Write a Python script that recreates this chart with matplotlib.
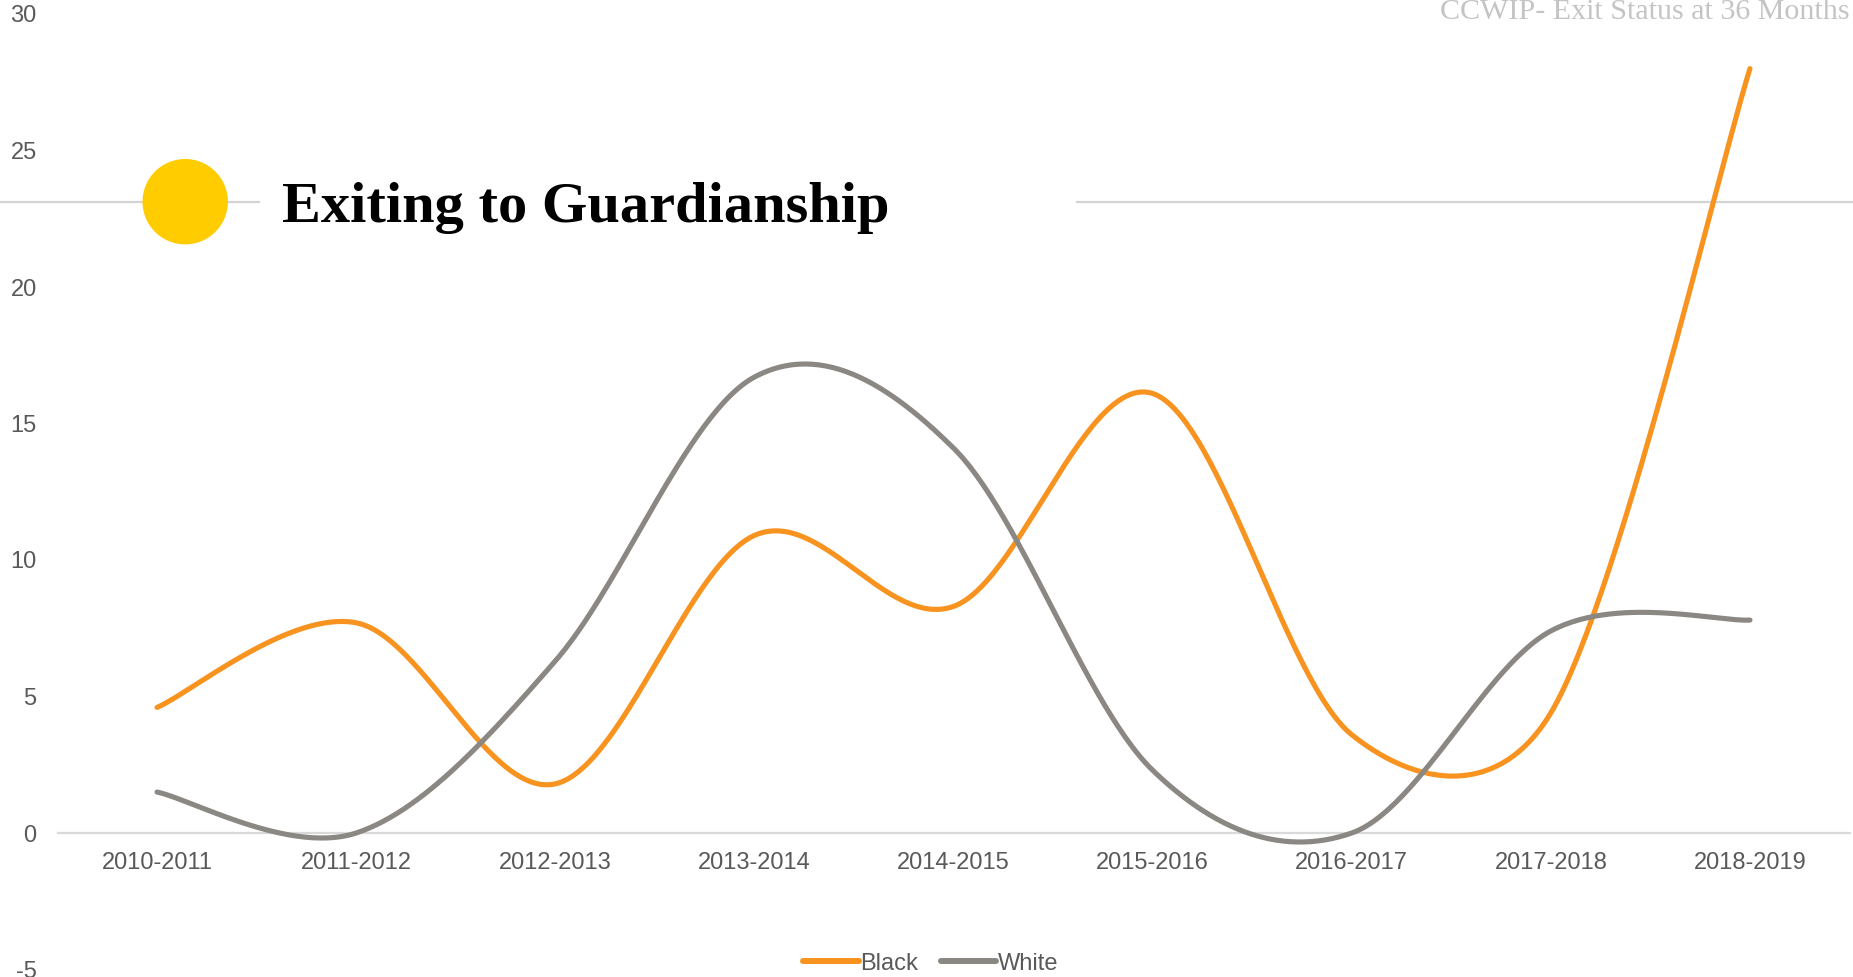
import matplotlib
matplotlib.use('Agg')
import matplotlib.pyplot as plt
import numpy as np
from matplotlib.lines import Line2D
from matplotlib.patches import Circle

# ---------------- data ----------------
categories = ['2010-2011', '2011-2012', '2012-2013', '2013-2014', '2014-2015',
              '2015-2016', '2016-2017', '2017-2018', '2018-2019']
black = [4.6, 7.7, 1.8, 10.9, 8.3, 16.1, 3.6, 4.4, 28.0]
white = [1.5, 0.0, 6.3, 16.7, 14.1, 2.3, 0.0, 7.4, 7.8]
series_names = ['Black', 'White']
yticks = [-5, 0, 5, 10, 15, 20, 25, 30]
title = 'Exiting to Guardianship'
subtitle = 'CCWIP- Exit Status at 36 Months'

# ---------------- style ----------------
W, H = 1853, 977
ORANGE = '#F7931E'
GREY = '#8B8883'
TICK_COLOR = '#595959'

plt.rcParams['font.family'] = ['Liberation Sans', 'DejaVu Sans']

fig = plt.figure(figsize=(W / 100, H / 100), dpi=100)
ax = fig.add_axes([57.5 / W, 1 - 969.5 / H, 1792 / W, 955.5 / H])
ax.set_xlim(-0.5, len(categories) - 0.5)
ax.set_ylim(min(yticks), max(yticks))

x = np.arange(len(categories))


def excel_smooth(ax, xs, ys, nseg=60):
    """Excel-style smoothed line: cubic Bezier segments computed in display space."""
    pts = ax.transData.transform(np.column_stack([xs, ys]))
    n = len(pts)
    out = [pts[0][None, :]]
    t = np.linspace(0, 1, nseg)[1:, None]
    for i in range(n - 1):
        p0 = pts[i - 1] if i > 0 else pts[i]
        p1 = pts[i]
        p2 = pts[i + 1]
        p3 = pts[i + 2] if i + 2 < n else pts[i + 1]
        d02 = np.hypot(*(p2 - p0))
        d12 = np.hypot(*(p2 - p1))
        d13 = np.hypot(*(p3 - p1))
        f1 = 1 / 6 if d02 / 6 < d12 / 2 else d12 / (2 * d02)
        f2 = 1 / 6 if d13 / 6 < d12 / 2 else d12 / (2 * d13)
        b1 = p1 + (p2 - p0) * f1
        b2 = p2 - (p3 - p1) * f2
        seg = ((1 - t) ** 3) * p1 + 3 * ((1 - t) ** 2) * t * b1 + 3 * (1 - t) * t ** 2 * b2 + t ** 3 * p2
        out.append(seg)
    allp = np.vstack(out)
    d = ax.transData.inverted().transform(allp)
    return d[:, 0], d[:, 1]


LW = 3.7
for vals, name, col in [(black, series_names[0], ORANGE), (white, series_names[1], GREY)]:
    sx, sy = excel_smooth(ax, x, vals)
    ax.plot(sx, sy, color=col, lw=LW, solid_capstyle='round', solid_joinstyle='round',
            label=name, zorder=3)

# axes styling
for s in ['top', 'right', 'left']:
    ax.spines[s].set_visible(False)
ax.spines['bottom'].set_position(('data', 0))
ax.spines['bottom'].set_color('#D9D9D9')
ax.spines['bottom'].set_linewidth(1.6)
ax.spines['bottom'].set_zorder(1)
ax.set_xticks(x)
ax.set_xticklabels(categories)
ax.set_yticks(yticks)
ax.set_yticklabels([str(v) for v in yticks])
ax.tick_params(axis='x', length=0, pad=14, labelsize=17, labelcolor=TICK_COLOR)
ax.tick_params(axis='y', length=0, pad=15, labelsize=17, labelcolor=TICK_COLOR)
ax.grid(False)
ax.patch.set_visible(False)

# legend
leg = fig.legend(loc='center', bbox_to_anchor=(930.8 / W, 1 - 963.5 / H), ncol=2, frameon=False,
                 fontsize=17, handlelength=2.35, handletextpad=0.08, columnspacing=0.95,
                 labelcolor=TICK_COLOR, borderaxespad=0, borderpad=0)
for lh in leg.get_lines():
    lh.set_linewidth(4.3)
    lh.set_solid_capstyle('round')

# title decoration: grey rule, yellow dot, bold serif title
yrule = 1 - 201.7 / H
ax.add_line(Line2D([0, 259 / W], [yrule, yrule], transform=fig.transFigure, color='#D4D4D4',
                   lw=1.6, zorder=1, clip_on=False))
ax.add_line(Line2D([1077 / W, 1], [yrule, yrule], transform=fig.transFigure, color='#D4D4D4',
                   lw=1.6, zorder=1, clip_on=False))
fig.patches.append(Circle((185.2 / 100, (H - 201.7) / 100), 0.427, transform=fig.dpi_scale_trans,
                          facecolor='#FFCC00', edgecolor='none', zorder=2))

renderer = fig.canvas.get_renderer()
t1 = fig.text(281.7 / W, 1 - 221.5 / H, title, ha='left', va='baseline',
              fontfamily='Liberation Serif', fontweight='bold', fontsize=42, color='#000000')
w1 = t1.get_window_extent(renderer).width
t1.set_fontsize(42 * 608 / w1)

t2 = fig.text(1850 / W, 1 - 19.3 / H, subtitle, ha='right', va='baseline',
              fontfamily='Liberation Serif', fontsize=21, color='#C4C4C4')
w2 = t2.get_window_extent(renderer).width
t2.set_fontsize(21 * 409 / w2)

fig.savefig('out.png', dpi=100, facecolor='white')
